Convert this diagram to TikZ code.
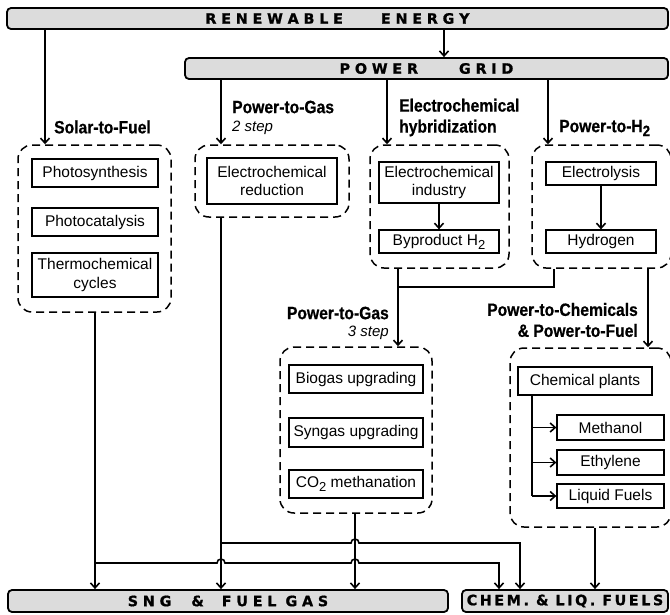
\documentclass[tikz,border=0pt]{standalone}
\usepackage{fontspec}
\usetikzlibrary{arrows.meta,calc}
\setmainfont{Liberation Sans}
\newfontfamily\labfont[FakeStretch=0.88, BoldFeatures={FakeBold=0.6}]{Liberation Sans}
\newfontfamily\barfont[BoldFeatures={FakeBold=1}]{DejaVu Sans}
\definecolor{barfill}{HTML}{DCDCDC}
\newcommand\lsp{\hspace{4.8pt}}
\newcommand\csp{\hspace{2.6pt}}
\newcommand\tsub[1]{\raisebox{-0.25em}{\fontsize{13}{13}\selectfont #1}}
\newcommand\lsub[1]{\raisebox{-0.22em}{\fontsize{15}{15}\selectfont #1}}
\begin{document}
\begin{tikzpicture}[x=1pt,y=-1pt,
  bar/.style={draw, fill=barfill, line width=1.8pt, rounded corners=4pt, inner sep=0pt,
    font=\barfont\bfseries\fontsize{14.3}{15}\selectfont},
  grp/.style={draw, dash pattern=on 8pt off 5pt, line width=1.5pt, rounded corners=14pt, inner sep=0pt},
  box/.style={draw, line width=1.3pt, inner sep=0pt, align=center,
    font=\fontsize{15.5}{18.5}\selectfont},
  lab/.style={inner sep=0pt, font=\labfont\bfseries\fontsize{17.8}{21}\selectfont},
  sublab/.style={inner sep=0pt, font=\itshape\fontsize{15}{18}\selectfont},
  con/.style={line width=1.6pt},
  arr/.style={con, -{Straight Barb[length=5pt,width=9pt]}},
]
\useasboundingbox (0,0) rectangle (670,614);

% bars
\node[bar, minimum width=661, minimum height=21] (ren) at (337.5,18.5)
  {R\lsp E\lsp N\lsp E\lsp W\lsp A\lsp B\lsp L\lsp E\hspace{38pt}E\lsp N\lsp E\lsp R\lsp G\lsp Y};
\node[bar, minimum width=483, minimum height=21] (grid) at (426.5,68.5)
  {P\lsp O\lsp W\lsp E\lsp R\hspace{41pt}G\lsp R\lsp I\lsp D};
\node[bar, minimum width=440, minimum height=22] (sng) at (228,601)
  {S\lsp N\lsp G\hspace{20pt}\&\hspace{18pt}F\lsp U\lsp E\lsp L\hspace{9pt}G\lsp A\lsp S};
\node[bar, minimum width=206, minimum height=22] (chem) at (565,601)
  {C\csp H\csp E\csp M\csp .\hspace{7pt}\&\hspace{7pt}L\csp I\csp Q\csp .\hspace{7pt}F\csp U\csp E\csp L\csp S};

% dashed groups
\node[grp, minimum width=153, minimum height=167] (gsolar) at (94.5,228.5) {};
\node[grp, minimum width=154, minimum height=72] (gptg2) at (272,181) {};
\node[grp, minimum width=139, minimum height=123] (geh) at (439.5,206.5) {};
\node[grp, minimum width=139, minimum height=123] (gh2) at (601.5,206.5) {};
\node[grp, minimum width=152, minimum height=166] (gptg3) at (356,430) {};
\node[grp, minimum width=161, minimum height=179] (gptc) at (590.5,437.5) {};

% boxes
\node[box, minimum width=126, minimum height=28] (photosyn) at (95,173) {Photosynthesis};
\node[box, minimum width=126, minimum height=28] (photocat) at (95,222) {Photocatalysis};
\node[box, minimum width=126, minimum height=44] (thermo) at (95,275) {Thermochemical\\cycles};
\node[box, minimum width=130, minimum height=46] (ecred) at (272,181) {Electrochemical\\reduction};
\node[box, minimum width=120, minimum height=41] (ecind) at (439,182.5) {Electrochemical\\industry};
\node[box, minimum width=120, minimum height=23] (byprod) at (439,241.5) {Byproduct H\tsub{2}};
\node[box, minimum width=110, minimum height=23] (electrolysis) at (601,173.5) {Electrolysis};
\node[box, minimum width=110, minimum height=23] (hydrogen) at (601,241.5) {Hydrogen};
\node[box, minimum width=134, minimum height=28] (biogas) at (356,379) {Biogas upgrading};
\node[box, minimum width=134, minimum height=29] (syngas) at (356,432.5) {Syngas upgrading};
\node[box, minimum width=134, minimum height=28] (co2) at (356,484) {CO\tsub{2} methanation};
\node[box, minimum width=134, minimum height=28] (chemplants) at (585,381) {Chemical plants};
\node[box, minimum width=107, minimum height=25] (methanol) at (610.5,427.5) {Methanol};
\node[box, minimum width=107, minimum height=25] (ethylene) at (610.5,462.5) {Ethylene};
\node[box, minimum width=107, minimum height=24] (liquid) at (610.5,496) {Liquid Fuels};

% labels
\node[lab, anchor=west] (lsolar) at (54,127) {Solar-to-Fuel};
\node[lab, anchor=west] (lptg2) at (232,107) {Power-to-Gas};
\node[sublab, anchor=west] (lptg2s) at (232,128) {2 step};
\node[lab, anchor=west, align=left] (leh) at (399,117.5) {Electrochemical\\hybridization};
\node[lab, anchor=west] (lh2) at (559,128) {Power-to-H\lsub{2}};
\node[lab, anchor=east] (lptg3) at (389,313) {Power-to-Gas};
\node[sublab, anchor=east] (lptg3s) at (389,333) {3 step};
\node[lab, anchor=east, align=right] (lptc) at (638,320) {Power-to-Chemicals\\\& Power-to-Fuel};

% x/y guide coordinates
\coordinate (x45) at (45,0);
\coordinate (x444) at (444,0);
\coordinate (x221) at (221,0);
\coordinate (x387) at (387,0);
\coordinate (x548) at (548,0);
\coordinate (x554) at (554,0);
\coordinate (x648) at (648,0);
\coordinate (x532) at (532,0);
\coordinate (x355) at (355,0);
\coordinate (x595) at (595,0);
\coordinate (x499) at (499,0);
\coordinate (x520) at (520,0);
\coordinate (x95) at (95,0);
\coordinate (jn) at (398,287);
\coordinate (ya) at (0,543);
\coordinate (yb) at (0,563);

% top connectors
\draw[arr] (ren.south -| x45) -- (gsolar.north -| x45);
\draw[arr] (ren.south -| x444) -- (grid.north -| x444);
\draw[arr] (grid.south -| x221) -- (gptg2.north -| x221);
\draw[arr] (grid.south -| x387) -- (geh.north -| x387);
\draw[arr] (grid.south -| x548) -- (gh2.north -| x548);
\draw[arr] (ecind.south) -- (byprod.north);
\draw[arr] (electrolysis.south) -- (hydrogen.north);
\draw[arr] (geh.south -| jn) -- (gptg3.north -| jn);
\draw[con] (gh2.south -| x554) |- (jn);
\draw[arr] (gh2.south -| x648) -- (gptc.north -| x648);

% chemical plants branch
\draw[con] (chemplants.south -| x532) -- (liquid.west -| x532);
\draw[arr] (methanol.west -| x532) -- (methanol.west);
\draw[arr] (ethylene.west -| x532) -- (ethylene.west);
\draw[arr] (liquid.west -| x532) -- (liquid.west);

% bottom connectors
\draw[arr] (gsolar.south -| x95) -- (sng.north -| x95);
\draw[arr] (gptg2.south -| x221) -- (sng.north -| x221);
\draw[arr] (gptg3.south -| x355) -- (sng.north -| x355);
\draw[arr] (gptc.south -| x595) -- (chem.north -| x595);
\draw[arr] (x95 |- yb) -- ($(x221 |- yb)+(-4,0)$) arc[start angle=180, end angle=360, radius=4]
  -- ($(x355 |- yb)+(-4,0)$) arc[start angle=180, end angle=360, radius=4]
  -| (chem.north -| x499);
\draw[arr] (x221 |- ya) -- ($(x355 |- ya)+(-4,0)$) arc[start angle=180, end angle=360, radius=4]
  -| (chem.north -| x520);
\end{tikzpicture}
\end{document}
